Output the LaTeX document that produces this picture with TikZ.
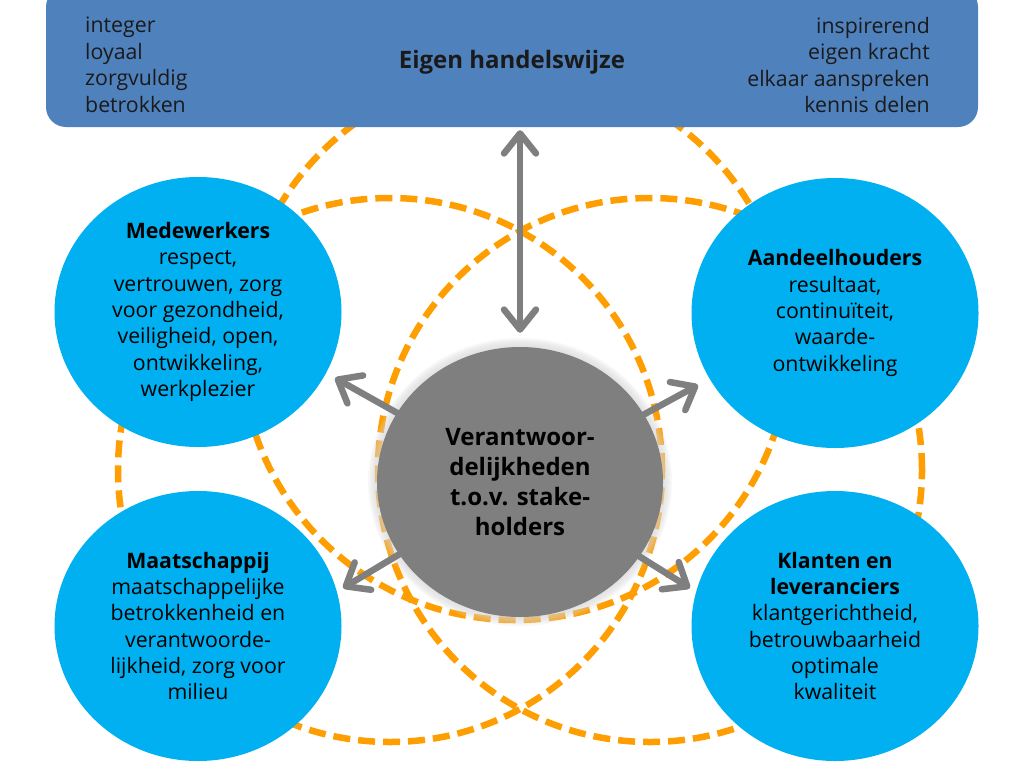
\documentclass[tikz,border=0pt]{standalone}
\usepackage{fontspec}
\setmainfont{Open Sans}
\usetikzlibrary{arrows.meta,shapes.geometric}
\definecolor{boxblue}{RGB}{79,129,189}
\definecolor{cyanblue}{RGB}{0,176,240}
\definecolor{midgray}{RGB}{127,127,127}
\definecolor{dashorange}{RGB}{255,158,0}
\definecolor{textdark}{RGB}{26,26,26}
\definecolor{halo}{RGB}{215,215,215}
\begin{document}
\begin{tikzpicture}[x=1pt,y=-1pt,
  ring/.style={draw=dashorange, line width=6.5pt, dash pattern=on 17pt off 8pt},
  stake/.style={ellipse, fill=cyanblue, minimum width=287pt, minimum height=270pt, inner sep=0pt, align=center, font=\fontsize{21.3}{26.3}\selectfont, text=black},
  core/.style={ellipse, fill=midgray, minimum width=286pt, minimum height=270pt, inner sep=0pt, align=center, font=\bfseries\fontsize{24}{30}\selectfont, text=black},
  boxtext/.style={font=\fontsize{21.3}{26.5}\selectfont, text=textdark, inner sep=0pt},
  link/.style={draw=midgray, line width=6.5pt, line cap=round, -{Straight Barb[length=20pt,width=32pt,round]}},
  dlink/.style={draw=midgray, line width=6.5pt, line cap=round, {Straight Barb[length=20pt,width=32pt,round]}-{Straight Barb[length=20pt,width=32pt,round]}},
]
\useasboundingbox (0,0) rectangle (1024,768);
\fill[white] (0,0) rectangle (1024,768);
% dashed rings
\draw[ring] (515,346) circle[radius=274pt];
\draw[ring] (390,470) circle[radius=272pt];
\draw[ring] (650,470) circle[radius=272pt];
% top box
\node[fill=boxblue, rounded corners=20pt, minimum width=932pt, minimum height=140pt, inner sep=0pt] (box) at (512,57) {};
\node[boxtext, anchor=west, align=left] (lt) at (85,65) {integer\\loyaal\\zorgvuldig\\betrokken};
\node[boxtext, anchor=east, align=right] (rt) at (930,65) {inspirerend\\eigen kracht\\elkaar aanspreken\\kennis delen};
\node[boxtext, font=\bfseries\fontsize{24}{28}\selectfont] (title) at (512,62) {Eigen handelswijze};
% stakeholders
\node[stake] (mw) at (198,312) {\textbf{Medewerkers}\\respect,\\vertrouwen, zorg\\voor gezondheid,\\veiligheid, open,\\ontwikkeling,\\werkplezier};
\node[stake] (ah) at (835,313) {\textbf{Aandeelhouders}\\resultaat,\\continuïteit,\\waarde-\\ontwikkeling};
\node[stake] (ms) at (198,626) {\textbf{Maatschappij}\\maatschappelijke\\betrokkenheid en\\verantwoorde-\\lijkheid, zorg voor\\milieu};
\node[stake] (kl) at (835,626) {\textbf{Klanten en}\\\textbf{leveranciers}\\klantgerichtheid,\\betrouwbaarheid\\optimale\\kwaliteit};
% halo of the core
\foreach \d in {9,7.5,6,4.5,3,1.5}
  \fill[halo, opacity=0.16] (520,482) ellipse[x radius={143pt+\d pt}, y radius={135pt+\d pt}];
% core
\node[core] (g) at (520,482) {Verantwoor-\\delijkheden\\t.o.v. stake-\\holders};
% arrows
\coordinate (tmw) at (335,378);
\coordinate (tah) at (698,385);
\coordinate (tms) at (343,588);
\coordinate (tkl) at (690,588);
\draw[link] (g) -- (tmw);
\draw[link] (g) -- (tah);
\draw[link] (g) -- (tms);
\draw[link] (g) -- (tkl);
\draw[dlink, shorten <=3pt, shorten >=14pt] (g.north |- box.south) -- (g.north);
\end{tikzpicture}
\end{document}
